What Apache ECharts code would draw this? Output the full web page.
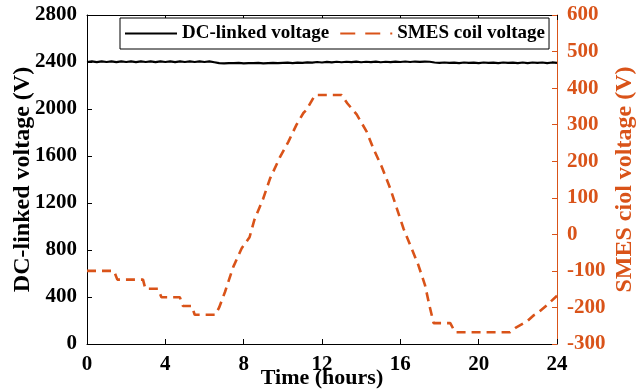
<!DOCTYPE html>
<html>
<head>
<meta charset="utf-8">
<script src="https://cdn.jsdelivr.net/npm/echarts@6/dist/echarts.min.js"></script>
<style>
html,body{margin:0;padding:0;background:#fff;}
#chart{width:636px;height:389px;}
</style>
</head>
<body>
<div id="chart"></div>
<script>
// ---- Data ----
var xTicks = [0, 4, 8, 12, 16, 20, 24];
var leftTicks = [0, 400, 800, 1200, 1600, 2000, 2400, 2800];
var rightTicks = [-300, -200, -100, 0, 100, 200, 300, 400, 500, 600];

var dcHours = [0,0.25,0.5,0.75,1,1.25,1.5,1.75,2,2.25,2.5,2.75,3,3.25,3.5,3.75,4,4.25,4.5,4.75,5,5.25,5.5,5.75,6,6.25,6.5,
  6.75,7,7.25,7.5,7.75,8,8.25,8.5,8.75,9,9.25,9.5,9.75,10,10.25,10.5,10.75,11,11.25,11.5,
  11.75,12,12.25,12.5,12.75,13,13.25,13.5,13.75,14,14.25,14.5,14.75,15,15.25,15.5,15.75,16,16.25,16.5,16.75,17,17.25,17.5,
  17.75,18,18.25,18.5,18.75,19,19.25,19.5,19.75,20,20.25,20.5,20.75,21,21.25,21.5,21.75,22,22.25,22.5,22.75,23,23.25,23.5,23.75,24];
var dcVolts = [2400,2405,2399,2406,2400,2405,2399,2406,2400,2405,2399,2406,2400,2405,2399,2406,2400,2405,2399,2406,2400,2405,2400,2406,2400,2405,2398,
  2391,2389,2391,2390,2392,2389,2391,2390,2392,2389,2391,2393,2390,2392,2394,2391,2395,2393,2397,2395,
  2400,2396,2401,2397,2402,2398,2402,2399,2403,2398,2402,2399,2403,2398,2402,2399,2403,2400,2404,2400,2404,2401,2404,2402,
  2396,2392,2396,2392,2395,2391,2396,2392,2395,2391,2396,2392,2395,2391,2396,2392,2395,2391,2396,2391,2396,2392,2396,2391,2396,2393];

var smesHours = [0,1.38,1.55,2.86,2.98,3.63,3.8,4.74,4.9,5.35,5.5,6.55,6.75,7.05,7.47,7.9,8.3,8.55,9.0,9.35,9.86,10.28,10.7,11.05,11.2,11.64,
  13.0,13.3,13.77,14.28,14.62,15.05,15.48,15.82,16.16,16.5,16.92,17.26,17.5,17.7,18.55,18.8,21.6,21.9,22.45,22.8,23.0,23.5,24];
var smesVolts = [-100,-100,-124,-124,-149,-149,-172,-172,-196,-196,-220,-220,-200,-157,-89,-38,-8,40,98,153,212,253,300,332,340,381,
  381,358,328,281,235,185,126,71,16,-29,-84,-139,-198,-243,-243,-268,-268,-255,-239,-222,-216,-193,-168];

var dcName = 'DC-linked voltage';
var smesName = 'SMES coil voltage';

// ---- Build ----
function pairs(xs, ys){ var o=[]; for(var i=0;i<xs.length;i++){o.push([xs[i],ys[i]]);} return o; }
function plain(v){ return String(v); }
var ORANGE = '#D95319';
var FONT = "'Liberation Serif','Times New Roman',serif";

var chart = echarts.init(document.getElementById('chart'), null, {renderer:'canvas'});
chart.setOption({
  animation:false,
  backgroundColor:'#fff',
  grid:{left:87,right:79,top:15,bottom:45,containLabel:false,outerBoundsMode:'none'},
  legend:{
    left:120, top:18,
    padding:[6,4,6,4],
    borderColor:'#000', borderWidth:1,
    backgroundColor:'#fff',
    itemWidth:52, itemHeight:14, itemGap:10,
    itemStyle:{opacity:0},
    textStyle:{fontFamily:FONT,fontWeight:'bold',fontSize:19,color:'#000'},
    data:[
      {name:dcName, itemStyle:{opacity:0}},
      {name:smesName, itemStyle:{opacity:0}, lineStyle:{type:[15,10]}}
    ]
  },
  xAxis:[{
    type:'value', min:xTicks[0], max:xTicks[xTicks.length-1], interval:4,
    name:'Time (hours)', nameLocation:'middle', nameGap:23, nameMoveOverlap:false,
    nameTextStyle:{fontFamily:FONT,fontWeight:'bold',fontSize:22,color:'#000'},
    axisLine:{show:true,onZero:false,lineStyle:{color:'#000',width:1}},
    axisTick:{show:true,inside:true,length:5,lineStyle:{color:'#000'}},
    axisLabel:{fontFamily:FONT,fontWeight:'bold',fontSize:21,color:'#000',margin:10,formatter:plain},
    splitLine:{show:false}
  },{
    type:'value', position:'top', min:xTicks[0], max:xTicks[xTicks.length-1], interval:4,
    axisLine:{show:true,onZero:false,lineStyle:{color:'#000',width:1}},
    axisTick:{show:true,inside:true,length:5,lineStyle:{color:'#000'}},
    axisLabel:{show:false}, splitLine:{show:false}
  }],
  yAxis:[{
    type:'value', position:'left', min:leftTicks[0], max:leftTicks[leftTicks.length-1], interval:400,
    name:'DC-linked voltage (V)', nameLocation:'middle', nameGap:52, nameRotate:90, nameMoveOverlap:false,
    nameTextStyle:{fontFamily:FONT,fontWeight:'bold',fontSize:24,color:'#000'},
    axisLine:{show:true,onZero:false,lineStyle:{color:'#000',width:1}},
    axisTick:{show:true,inside:true,length:5,lineStyle:{color:'#000'}},
    axisLabel:{fontFamily:FONT,fontWeight:'bold',fontSize:21,color:'#000',margin:10,formatter:plain},
    splitLine:{show:false}
  },{
    type:'value', position:'right', min:rightTicks[0], max:rightTicks[rightTicks.length-1], interval:100,
    name:'SMES ciol voltage (V)', nameLocation:'middle', nameGap:56, nameRotate:90, nameMoveOverlap:false,
    nameTextStyle:{fontFamily:FONT,fontWeight:'bold',fontSize:24,color:ORANGE},
    axisLine:{show:true,onZero:false,lineStyle:{color:ORANGE,width:1}},
    axisTick:{show:true,inside:true,length:5,lineStyle:{color:ORANGE}},
    axisLabel:{fontFamily:FONT,fontWeight:'bold',fontSize:21,color:ORANGE,margin:10,formatter:plain},
    splitLine:{show:false}
  }],
  series:[{
    name:dcName, type:'line', xAxisIndex:0, yAxisIndex:0,
    symbol:'none', smooth:false,
    lineStyle:{color:'#000',width:2.2},
    itemStyle:{color:'#000'},
    data:pairs(dcHours, dcVolts)
  },{
    name:smesName, type:'line', xAxisIndex:0, yAxisIndex:1,
    symbol:'none', smooth:false,
    lineStyle:{color:ORANGE,width:2.6,type:[9,6]},
    itemStyle:{color:ORANGE},
    data:pairs(smesHours, smesVolts)
  }]
});
</script>
</body>
</html>
